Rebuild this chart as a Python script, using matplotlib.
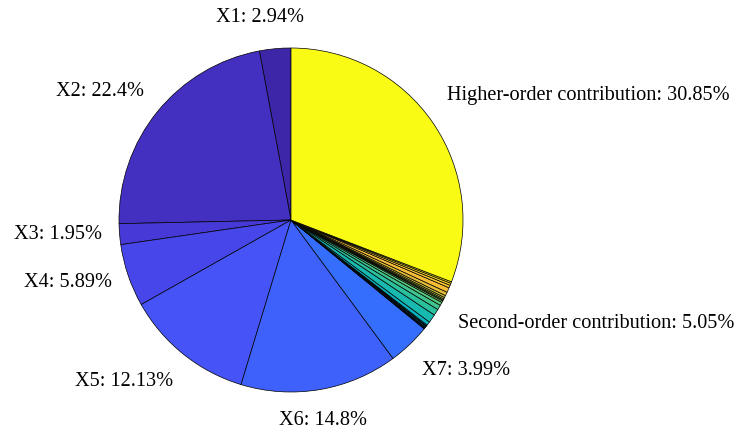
import numpy as np
import matplotlib
matplotlib.use("Agg")
import matplotlib.pyplot as plt
from matplotlib.colors import LinearSegmentedColormap
from matplotlib.transforms import offset_copy

# ---------------- data ----------------
main_names = ["X1", "X2", "X3", "X4", "X5", "X6", "X7"]
main_values = [2.94, 22.4, 1.95, 5.89, 12.13, 14.8, 3.99]
main_labels = ["X1: 2.94%", "X2: 22.4%", "X3: 1.95%", "X4: 5.89%",
               "X5: 12.13%", "X6: 14.8%", "X7: 3.99%"]
second_values = [0.05, 0.08, 0.05, 0.10, 0.06, 0.10, 0.35, 0.80, 0.60, 0.45,
                 0.30, 0.15, 0.10, 0.12, 0.15, 0.20, 0.34, 0.45, 0.25, 0.20, 0.15]
second_label = "Second-order contribution: 5.05%"
higher_value = 30.85
higher_label = "Higher-order contribution: 30.85%"

# ---------------- parula-like colormap ----------------
parula_pts = [
    (0.00, (0.2422, 0.1504, 0.6603)), (0.05, (0.2691, 0.1961, 0.7930)),
    (0.10, (0.2810, 0.2656, 0.9110)), (0.15, (0.2667, 0.3384, 0.9795)),
    (0.20, (0.2233, 0.4143, 0.9978)), (0.25, (0.1638, 0.4877, 0.9797)),
    (0.30, (0.1400, 0.5540, 0.9180)), (0.35, (0.1037, 0.6126, 0.8780)),
    (0.40, (0.0515, 0.6629, 0.8416)), (0.45, (0.0118, 0.7002, 0.7835)),
    (0.50, (0.0900, 0.7280, 0.6900)), (0.55, (0.1945, 0.7589, 0.5858)),
    (0.60, (0.3184, 0.7831, 0.5086)), (0.65, (0.4640, 0.7907, 0.4176)),
    (0.70, (0.6000, 0.7800, 0.3300)), (0.75, (0.7258, 0.7660, 0.2650)),
    (0.80, (0.8438, 0.7468, 0.2219)), (0.85, (0.9525, 0.7372, 0.2170)),
    (0.90, (0.9942, 0.7925, 0.1920)), (0.95, (0.9622, 0.8884, 0.1412)),
    (1.00, (0.9769, 0.9839, 0.0805)),
]
parula = LinearSegmentedColormap.from_list("parula", parula_pts)

values = main_values + second_values + [higher_value]
n = len(values)
colors = [parula(i / (n - 1)) for i in range(n)]

plt.rcParams["font.family"] = ["Liberation Serif", "DejaVu Serif"]

fig = plt.figure(figsize=(7.37, 4.30), dpi=100)
W, H = 737, 430
cx, cy, R = 291, 220, 172
ax = fig.add_axes([(cx - R) / W, (H - cy - R) / H, 2 * R / W, 2 * R / H])

wedges, _ = ax.pie(values, colors=colors, startangle=90, counterclock=True,
                   wedgeprops=dict(edgecolor="black", linewidth=0.5))
ax.set_xlim(-1, 1)
ax.set_ylim(-1, 1)
ax.set_aspect("auto")
ax.axis("off")

def mid_angle(t1, t2):
    return np.deg2rad((t1 + t2) / 2.0)

# label layout: (ha, dx px, dy px)
layout_main = [("center", -14, 14), ("right", 0, 9), ("right", 0, 1),
               ("right", 0, -1), ("right", 0, -14), ("center", 0, -14),
               ("left", 1, -13)]
fs = 14.6

for i, lab in enumerate(main_labels):
    w = wedges[i]
    a = mid_angle(w.theta1, w.theta2)
    ha, dx, dy = layout_main[i]
    tr = offset_copy(ax.transData, fig=fig, x=dx, y=dy, units="dots")
    ax.text(1.1 * np.cos(a), 1.1 * np.sin(a), lab, transform=tr, ha=ha,
            va="center", fontsize=fs, clip_on=False)

# second-order group label
i0 = len(main_values)
i1 = i0 + len(second_values) - 1
a = mid_angle(wedges[i0].theta1, wedges[i1].theta2)
tr = offset_copy(ax.transData, fig=fig, x=3, y=-8, units="dots")
ax.text(1.1 * np.cos(a), 1.1 * np.sin(a), second_label, transform=tr,
        ha="left", va="center", fontsize=fs, clip_on=False)

# higher-order label
w = wedges[-1]
a = mid_angle(w.theta1, w.theta2)
tr = offset_copy(ax.transData, fig=fig, x=0, y=17, units="dots")
ax.text(1.1 * np.cos(a), 1.1 * np.sin(a), higher_label, transform=tr,
        ha="left", va="center", fontsize=fs, clip_on=False)

fig.savefig("out.png", dpi=100, facecolor="white")
